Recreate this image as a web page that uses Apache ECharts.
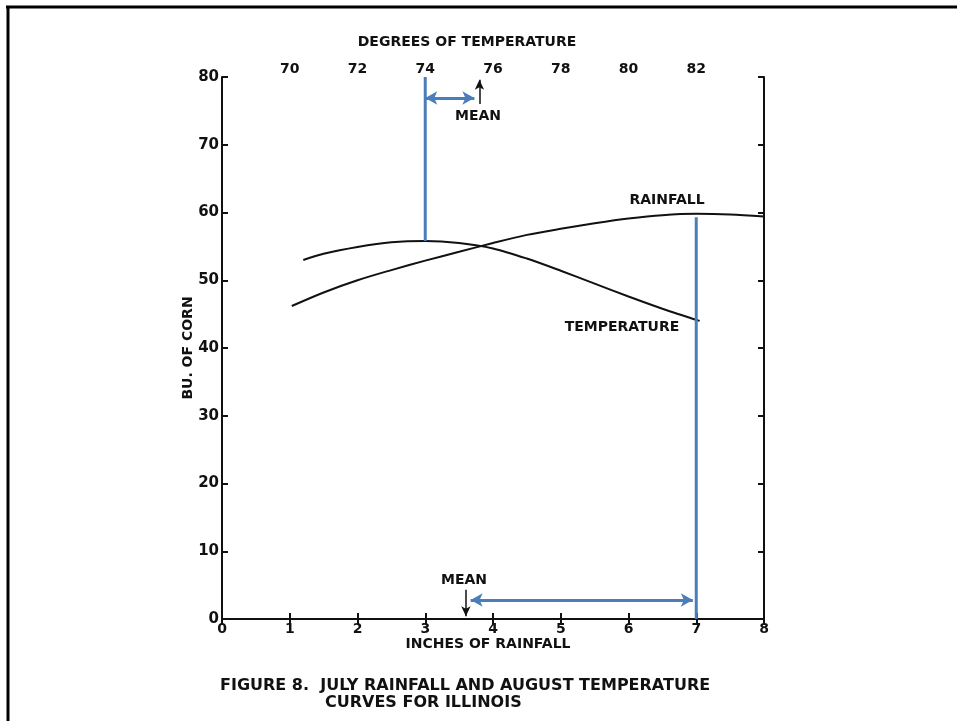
<!DOCTYPE html>
<html>
<head>
<meta charset="utf-8">
<script src="https://cdn.jsdelivr.net/npm/echarts@6/dist/echarts.min.js"></script>
<style>
  html, body { margin: 0; padding: 0; background: #fff; }
  #chart { width: 957px; height: 721px; }
</style>
</head>
<body>
<div id="chart"></div>
<script>
// rainfall curve: [inches, bushels]
var rainfall = [[1.03, 46.2], [1.5, 48.2], [2, 50.0], [2.5, 51.5], [3, 52.9], [3.5, 54.2],
  [4, 55.5], [4.5, 56.7], [5, 57.6], [5.5, 58.4], [6, 59.1], [6.5, 59.6], [7, 59.8],
  [7.5, 59.7], [8, 59.4]];
// temperature curve: [degrees, bushels]
var temperature = [[70.4, 53.0], [71, 53.9], [72, 54.9], [73, 55.6], [74, 55.8], [75, 55.5],
  [76, 54.7], [77, 53.2], [78, 51.4], [79, 49.5], [80, 47.6], [81, 45.8], [82.1, 44.0]];
// optimum markers
var tempOptimum = [[74, 80], [74, 55.8]];
var rainOptimum = [[7, 59.3], [7, 0]];
var tempMean = 75.6;
var rainMean = 3.6;
var tempTicks = [70, 72, 74, 76, 78, 80, 82];

var BLUE = '#4a7ebb';
var FONT = 'DejaVu Sans';
var chart = echarts.init(document.getElementById('chart'));

function txt(x, y, s, align, size) {
  return { type: 'text', x: x, y: y, style: { text: s, fill: '#111', font: 'bold ' + (size || 14) + 'px "' + FONT + '"', textAlign: align || 'left', textVerticalAlign: 'middle' } };
}

var axisCommon = {
  axisLine: { show: true, lineStyle: { color: '#111', width: 2 } },
  axisTick: { show: true, inside: true, length: 6, lineStyle: { color: '#111', width: 2 } },
  splitLine: { show: false },
  axisLabel: { color: '#111', fontFamily: FONT, fontSize: 14, fontWeight: 'bold' }
};

var option = {
  animation: false,
  backgroundColor: '#fff',
  grid: { left: 222, right: 193, top: 77, bottom: 102 },
  xAxis: [
    Object.assign({}, axisCommon, { type: 'value', position: 'bottom', min: 0, max: 8, interval: 1,
      axisLabel: Object.assign({}, axisCommon.axisLabel, { margin: 3 }) }),
    Object.assign({}, axisCommon, { type: 'value', position: 'top', min: 68, max: 84, interval: 2,
      axisLabel: Object.assign({}, axisCommon.axisLabel, { margin: 1,
        formatter: function (v) { return tempTicks.indexOf(v) >= 0 ? String(v) : ''; } }) })
  ],
  yAxis: [
    Object.assign({}, axisCommon, { type: 'value', position: 'left', min: 0, max: 80, interval: 10,
      axisLabel: Object.assign({}, axisCommon.axisLabel, { fontSize: 15, margin: 3 }) }),
    Object.assign({}, axisCommon, { type: 'value', position: 'right', min: 0, max: 80, interval: 10,
      axisLabel: { show: false } })
  ],
  series: [
    { name: 'Rainfall', type: 'line', xAxisIndex: 0, data: rainfall, smooth: 0.3,
      showSymbol: false, lineStyle: { color: '#111', width: 2 } },
    { name: 'Temperature', type: 'line', xAxisIndex: 1, data: temperature, smooth: 0.3,
      showSymbol: false, lineStyle: { color: '#111', width: 2 } },
    { type: 'line', xAxisIndex: 1, data: tempOptimum, showSymbol: false, lineStyle: { color: BLUE, width: 3 },
      markLine: { silent: true, symbol: ['arrow', 'arrow'], symbolSize: [10, 12], label: { show: false },
        lineStyle: { color: BLUE, width: 3, type: 'solid' },
        data: [[{ coord: [74.0, 76.9] }, { coord: [tempMean - 0.15, 76.9] }]] } },
    { type: 'line', xAxisIndex: 1, data: [], showSymbol: false,
      markLine: { silent: true, symbol: ['none', 'arrow'], symbolSize: [7, 10], label: { show: false },
        lineStyle: { color: '#111', width: 1.5, type: 'solid' },
        data: [[{ coord: [tempMean, 76.0] }, { coord: [tempMean, 79.6] }]] } },
    { type: 'line', xAxisIndex: 0, data: rainOptimum, showSymbol: false, lineStyle: { color: BLUE, width: 3 },
      markLine: { silent: true, symbol: ['arrow', 'arrow'], symbolSize: [10, 12], label: { show: false },
        lineStyle: { color: BLUE, width: 3, type: 'solid' },
        data: [[{ coord: [rainMean + 0.07, 2.8] }, { coord: [6.95, 2.8] }]] } },
    { type: 'line', xAxisIndex: 0, data: [], showSymbol: false,
      markLine: { silent: true, symbol: ['none', 'arrow'], symbolSize: [7, 10], label: { show: false },
        lineStyle: { color: '#111', width: 1.5, type: 'solid' },
        data: [[{ coord: [rainMean, 4.3] }, { coord: [rainMean, 0.4] }]] } }
  ],
  graphic: [
    { type: 'line', shape: { x1: 6, y1: 7, x2: 957, y2: 7 }, style: { stroke: '#000', lineWidth: 3 } },
    { type: 'line', shape: { x1: 8, y1: 6, x2: 8, y2: 721 }, style: { stroke: '#000', lineWidth: 3 } },
    txt(467, 42, 'DEGREES OF TEMPERATURE', 'center'),
    txt(488, 644, 'INCHES OF RAINFALL', 'center'),
    { type: 'text', x: 188, y: 348, rotation: Math.PI / 2,
      style: { text: 'BU. OF CORN', fill: '#111', font: 'bold 14px "' + FONT + '"', textAlign: 'center', textVerticalAlign: 'middle' } },
    txt(667, 200, 'RAINFALL', 'center'),
    txt(622, 327, 'TEMPERATURE', 'center'),
    txt(478, 116, 'MEAN', 'center'),
    txt(464, 580, 'MEAN', 'center'),
    txt(220, 686, 'FIGURE 8.  JULY RAINFALL AND AUGUST TEMPERATURE', 'left', 16),
    txt(325, 703, 'CURVES FOR ILLINOIS', 'left', 16)
  ]
};
chart.setOption(option);
</script>
</body>
</html>
